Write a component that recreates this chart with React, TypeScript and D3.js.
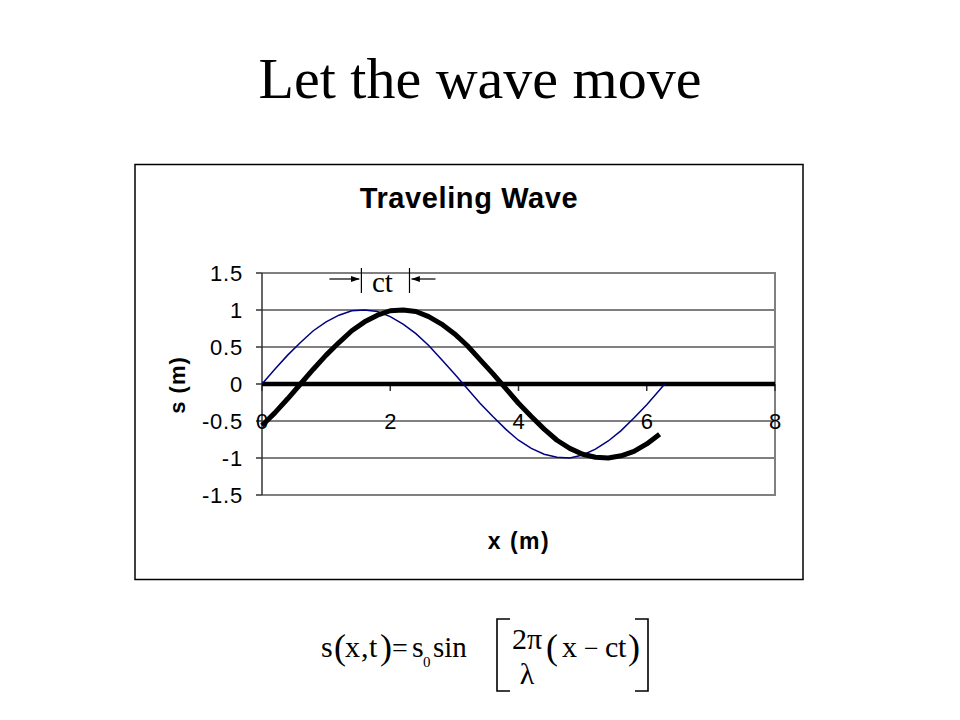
import React from "react";
import * as d3 from "d3";

// x positions (m)
const xValues = [0, 0.2, 0.4, 0.6, 0.8, 1.0, 1.2, 1.4, 1.6, 1.8, 2.0, 2.2, 2.4, 2.6, 2.8, 3.0, 3.2, 3.4, 3.6, 3.8, 4.0, 4.2, 4.4, 4.6, 4.8, 5.0, 5.2, 5.4, 5.6, 5.8, 6.0, 6.2];
// wave at t = 0 (thin navy)
const waveT0 = [0, 0.2, 0.39, 0.56, 0.72, 0.84, 0.93, 0.99, 1.0, 0.98, 0.91, 0.81, 0.68, 0.52, 0.33, 0.14, -0.06, -0.26, -0.44, -0.61, -0.76, -0.87, -0.95, -0.99, -1.0, -0.96, -0.88, -0.77, -0.63, -0.46, -0.28, -0.08];
const waveT0EndX = 6.28;
const waveT0EndY = 0;
// wave at later time t (thick black)
const waveT1 = [-0.56, -0.39, -0.2, 0, 0.2, 0.39, 0.56, 0.72, 0.84, 0.93, 0.99, 1.0, 0.98, 0.91, 0.81, 0.68, 0.52, 0.33, 0.14, -0.06, -0.26, -0.44, -0.61, -0.76, -0.87, -0.95, -0.99, -1.0, -0.97, -0.91, -0.81, -0.68];
// zero baseline series
const zeroX = [0, 8];
const zeroY = [0, 0];

const xTicks = [0, 2, 4, 6, 8];
const yTicks = [1.5, 1, 0.5, 0, -0.5, -1, -1.5];
const gridLines = [1, 0.5, -0.5, -1];

const ctStart = 1.55;
const ctEnd = 2.3;

const sansFont = "'Liberation Sans', Arial, sans-serif";
const serifFont = "'Liberation Serif', 'Times New Roman', serif";

// formula glyph pieces: [text, x, baseline, size]
const formulaLeft: [string, number, number, number][] = [
  ["s", 321, 657, 30],
  ["(", 334, 659, 36],
  ["x", 345, 657, 30],
  [",", 361, 657, 30],
  ["t", 369, 657, 30],
  [")", 380, 659, 36],
  ["=", 392, 657, 28],
  ["s", 412, 657, 30],
  ["0", 423, 667, 15],
  ["sin", 433, 657, 29],
  ["(", 546, 659, 36],
  ["x", 562, 657, 30],
  ["−", 584, 657, 26],
  ["c", 605, 657, 30],
  ["t", 618, 657, 30],
  [")", 628, 659, 36],
];

export default function App() {
  const x = d3.scaleLinear().domain([0, 8]).range([262, 775]);
  const y = d3.scaleLinear().domain([-1.5, 1.5]).range([495, 273]);

  const line = d3
    .line<[number, number]>()
    .x((d) => x(d[0]))
    .y((d) => y(d[1]));

  const t0Pts: [number, number][] = xValues.map((v, i) => [v, waveT0[i]]);
  t0Pts.push([waveT0EndX, waveT0EndY]);
  const t1Pts: [number, number][] = xValues.map((v, i) => [v, waveT1[i]]);
  const zeroPts: [number, number][] = zeroX.map((v, i) => [v, zeroY[i]]);

  const ctY = 279;
  const barTop = 268;
  const barBot = 293;

  return (
    <svg
      width={960}
      height={720}
      style={{ position: "absolute", left: 0, top: 0, background: "#fff" }}
    >
      <rect x={0} y={0} width={960} height={720} fill="#fff" />
      <defs>
        <marker id="arr" viewBox="0 0 10 10" refX={10} refY={5} markerWidth={7} markerHeight={7} orient="auto">
          <path d="M0,1.5 L10,5 L0,8.5 Z" fill="#000" />
        </marker>
      </defs>

      {/* Slide title */}
      <text x={480} y={98} textAnchor="middle" fontFamily={serifFont} fontSize={58} fill="#000">
        Let the wave move
      </text>

      {/* Chart box */}
      <rect x={135} y={164.5} width={668} height={415} fill="#fff" stroke="#000" strokeWidth={1.5} />

      <text x={469} y={208} textAnchor="middle" fontFamily={sansFont} fontWeight="bold" fontSize={29} letterSpacing={0.6} fill="#000">
        Traveling Wave
      </text>

      {/* Gridlines */}
      {gridLines.map((g) => (
        <line key={g} x1={x(0)} x2={x(8)} y1={y(g)} y2={y(g)} stroke="#000" strokeWidth={1} />
      ))}

      {/* Plot area border */}
      <path
        d={`M${x(0)},${y(1.5)} L${x(8)},${y(1.5)} L${x(8)},${y(-1.5)} L${x(0)},${y(-1.5)}`}
        fill="none"
        stroke="#808080"
        strokeWidth={2}
      />
      {/* y axis */}
      <line x1={x(0)} x2={x(0)} y1={y(1.5)} y2={y(-1.5)} stroke="#333" strokeWidth={1.5} />
      {yTicks.map((t) => (
        <g key={t}>
          <line x1={x(0) - 6} x2={x(0)} y1={y(t)} y2={y(t)} stroke="#333" strokeWidth={1.5} />
          <text x={243} y={y(t) + 8} textAnchor="end" fontFamily={sansFont} fontSize={22} letterSpacing={0.8} fill="#000">
            {String(t)}
          </text>
        </g>
      ))}

      {/* x axis ticks */}
      {xTicks.map((t) => (
        <g key={t}>
          <line x1={x(t)} x2={x(t)} y1={y(0)} y2={y(0) + 7} stroke="#333" strokeWidth={1.5} />
          <text x={x(t)} y={y(0) + 45} textAnchor="middle" fontFamily={sansFont} fontSize={22} fill="#000">
            {String(t)}
          </text>
        </g>
      ))}

      {/* Series */}
      <path d={line(zeroPts) || ""} fill="none" stroke="#000" strokeWidth={4.5} />
      <path d={line(t0Pts) || ""} fill="none" stroke="#000080" strokeWidth={1.5} />
      <path d={line(t1Pts) || ""} fill="none" stroke="#000" strokeWidth={5} strokeLinejoin="round" />

      {/* Axis titles */}
      <text
        transform={`translate(185,385) rotate(-90)`}
        textAnchor="middle"
        fontFamily={sansFont}
        fontWeight="bold"
        fontSize={22}
        letterSpacing={1}
        fill="#000"
      >
        s (m)
      </text>
      <text x={519} y={549} textAnchor="middle" fontFamily={sansFont} fontWeight="bold" fontSize={23} letterSpacing={1.5} fill="#000">
        x (m)
      </text>

      {/* ct annotation */}
      <line x1={x(ctStart)} x2={x(ctStart)} y1={barTop} y2={barBot} stroke="#000" strokeWidth={1.2} />
      <line x1={x(ctEnd)} x2={x(ctEnd)} y1={barTop} y2={barBot} stroke="#000" strokeWidth={1.2} />
      <line x1={x(ctStart) - 32} x2={x(ctStart) - 2} y1={ctY} y2={ctY} stroke="#000" strokeWidth={1.2} markerEnd="url(#arr)" />
      <line x1={x(ctEnd) + 26} x2={x(ctEnd) + 2} y1={ctY} y2={ctY} stroke="#000" strokeWidth={1.2} markerEnd="url(#arr)" />
      <text x={(x(ctStart) + x(ctEnd)) / 2 - 3} y={292} textAnchor="middle" fontFamily={serifFont} fontSize={29} fill="#000">
        ct
      </text>

      {/* Formula */}
      <g fontFamily={serifFont} fill="#000">
        {formulaLeft.map(([s, fx, fy, fs], i) => (
          <text key={i} x={fx} y={fy} fontSize={fs}>
            {s}
          </text>
        ))}
        <path d="M510,619 L497,619 L497,691 L510,691" fill="none" stroke="#000" strokeWidth={1.6} />
        <text x={527} y={649} textAnchor="middle" fontSize={30}>
          2π
        </text>
        <text x={527} y={684} textAnchor="middle" fontSize={30}>
          λ
        </text>
        <path d="M635,619 L648,619 L648,691 L635,691" fill="none" stroke="#000" strokeWidth={1.6} />
      </g>
    </svg>
  );
}
